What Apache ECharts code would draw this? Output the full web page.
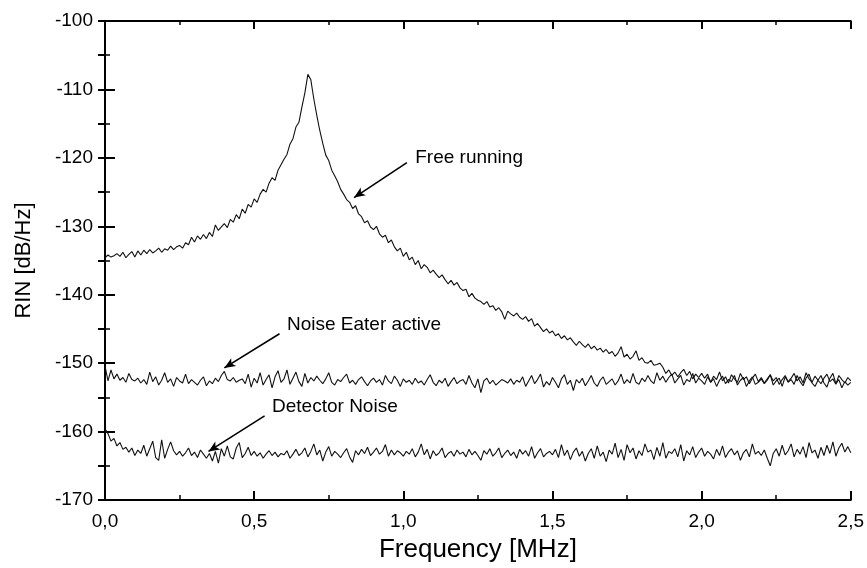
<!DOCTYPE html>
<html>
<head>
<meta charset="utf-8">
<title>RIN</title>
<script src="https://cdn.jsdelivr.net/npm/echarts@6/dist/echarts.min.js"></script>
<style>
  html, body { margin: 0; padding: 0; background: #fff; }
  #chart { width: 867px; height: 568px; }
</style>
</head>
<body>
<div id="chart"></div>
<script>
// sampling grid: 0,00 ... 2,50 MHz, one point every 0.01 MHz
var freqStep = 0.01;

// Free running laser (dB/Hz)
var freeRunning = [
  -134.6, -134.2, -134.5, -134.3, -134.0, -134.4, -133.8, -134.6, -134.1, -133.7,
  -134.5, -133.6, -134.2, -133.5, -134.0, -133.4, -133.9, -133.6, -133.2, -133.8,
  -133.3, -133.5, -132.9, -133.4, -133.0, -132.8, -133.2, -132.4, -132.7, -131.6,
  -132.3, -131.4, -131.9, -131.2, -131.8, -130.9, -131.5, -129.8, -130.6, -130.1,
  -129.6, -130.2, -129.0, -129.4, -128.3, -128.9, -127.5, -128.1, -126.8, -127.2,
  -126.0, -126.5, -125.3, -124.6, -125.0, -123.7, -122.9, -123.3, -121.8, -121.0,
  -120.2, -119.5, -118.0, -117.2, -115.5, -114.8, -112.6, -110.5, -107.8, -108.6,
  -111.4, -113.8, -116.0, -117.9, -119.6, -120.4, -121.8, -122.6, -123.5, -124.6,
  -125.3, -126.1, -126.5, -127.4, -127.0, -128.2, -128.6, -129.5, -129.2, -130.1,
  -130.5, -130.0, -131.1, -131.6, -131.3, -132.4, -132.0, -133.0, -133.6, -133.2,
  -134.4, -133.8, -134.9, -134.5, -135.6, -135.0, -136.2, -135.6, -136.0, -136.8,
  -136.4, -137.0, -137.5, -137.1, -137.8, -138.4, -137.9, -138.6, -138.2, -139.0,
  -139.4, -139.2, -140.3, -139.8, -140.5, -140.8, -141.0, -141.4, -141.0, -141.8,
  -141.6, -142.3, -141.9, -142.5, -143.6, -142.4, -142.8, -143.1, -142.7, -143.3,
  -143.6, -143.2, -143.9, -143.5, -144.6, -144.2, -144.8, -145.4, -145.0, -145.6,
  -145.3, -146.0, -145.7, -146.4, -146.0, -146.6, -146.3, -146.9, -147.4, -146.8,
  -147.3, -147.7, -147.2, -147.9, -147.5, -148.1, -147.8, -148.4, -148.0, -148.6,
  -148.3, -149.0, -148.5, -147.6, -149.1, -148.7, -149.4, -149.0, -148.2, -149.6,
  -149.2, -149.9, -150.0, -149.6, -150.3, -150.2, -150.0, -150.6, -151.5, -151.0,
  -151.8, -151.3, -152.0, -151.4, -150.9, -151.8, -151.2, -152.3, -151.6, -152.1,
  -151.5, -152.2, -151.6, -152.8, -151.9, -152.4, -151.3, -152.6, -152.0, -152.9,
  -151.7, -152.3, -152.8, -151.5, -152.4, -152.0, -153.0, -152.2, -151.6, -152.7,
  -152.1, -152.9, -152.3, -151.7, -152.6, -152.1, -153.1, -152.4, -151.8, -152.7,
  -152.2, -151.5, -152.6, -152.0, -152.9, -151.4, -152.3, -152.8, -151.9, -152.5,
  -153.0, -152.2, -151.6, -152.7, -152.3, -153.1, -151.8, -152.4, -152.9, -152.1,
  -152.6
];

// Noise Eater active (dB/Hz)
var noiseEater = [
  -150.4, -152.6, -151.0, -152.3, -151.6, -152.5, -152.1, -152.8, -151.5, -152.4,
  -152.6, -152.2, -152.9, -152.4, -153.1, -151.3, -152.7, -152.0, -153.2, -152.5,
  -151.4, -152.8, -152.3, -153.4, -152.1, -152.6, -152.9, -151.6, -153.0, -152.4,
  -152.8, -153.2, -152.5, -152.0, -153.3, -152.6, -153.0, -152.2, -152.7, -151.8,
  -151.2, -152.4, -152.6, -152.1, -152.8, -152.5, -152.3, -153.0, -151.6, -153.5,
  -152.2, -152.9, -151.4, -153.2, -152.4, -151.7, -153.6, -152.0, -151.1, -152.8,
  -152.3, -151.0, -153.1, -152.2, -151.3, -152.7, -153.4, -151.5, -152.9, -152.1,
  -152.6, -151.9, -152.5, -153.0, -152.3, -151.4, -152.8, -153.2, -152.4, -152.7,
  -152.1, -151.6, -152.9, -152.5, -153.1, -152.4, -152.0, -152.7, -153.3, -152.6,
  -152.2, -152.8, -152.4, -153.2, -151.8, -152.6, -153.0, -151.9, -152.5, -153.4,
  -152.3, -152.8, -152.5, -153.1, -152.2, -152.9, -152.6, -153.2, -152.4, -151.7,
  -152.8, -153.3, -152.5, -152.9, -152.2, -153.4, -152.7, -152.1, -153.0, -152.6,
  -152.4, -153.1, -151.8, -152.9, -153.6, -152.3, -154.3, -152.6, -152.2, -153.0,
  -152.5, -153.2, -152.8, -152.4, -152.6, -152.9, -152.3, -153.1, -152.5, -152.8,
  -152.0, -153.4, -152.6, -151.8, -153.0, -152.4, -151.6, -153.5, -152.7, -153.2,
  -152.1, -152.8, -153.6, -152.3, -151.7, -153.1, -152.5, -154.0, -152.4, -152.9,
  -152.2, -153.3, -152.6, -151.8, -152.9, -153.4, -152.5, -152.0, -153.1, -152.7,
  -152.3, -153.2, -152.6, -151.6, -153.0, -152.4, -152.9, -151.5, -152.8, -153.1,
  -152.2, -152.7, -151.8, -152.6, -153.0, -151.4, -152.5, -151.9, -152.8, -152.1,
  -151.6, -152.9, -152.3, -151.8, -153.2, -152.4, -152.7, -151.5, -152.9, -152.2,
  -152.6, -153.1, -152.0, -152.8, -152.3, -153.4, -152.5, -151.9, -153.0, -152.4,
  -152.7, -151.8, -153.2, -152.5, -152.1, -153.4, -152.6, -152.0, -153.1, -152.8,
  -152.3, -153.0, -152.5, -151.7, -153.2, -152.6, -152.2, -153.4, -152.0, -152.8,
  -152.4, -153.1, -151.8, -152.7, -153.3, -152.2, -151.6, -152.9, -153.4, -152.5,
  -151.8, -152.9, -153.5, -152.2, -151.5, -153.0, -152.4, -153.6, -152.7, -153.2,
  -152.8
];

// Detector Noise (dB/Hz)
var detectorNoise = [
  -159.6, -160.3, -161.4, -161.0, -162.1, -161.6, -162.6, -162.3, -163.0, -162.4,
  -163.5, -162.7, -163.2, -162.0, -163.6, -162.5, -161.4, -163.8, -164.2, -161.2,
  -163.9, -162.6, -161.5, -162.8, -163.4, -162.9, -163.6, -163.1, -162.4, -163.5,
  -163.0, -163.8, -162.7, -163.3, -163.9, -163.2, -164.3, -162.9, -164.6, -162.5,
  -163.6, -162.1, -163.7, -164.0, -162.4, -161.6, -163.8, -163.2, -162.3, -163.5,
  -162.9, -163.6, -163.1, -163.9, -163.3, -162.8, -163.5, -163.0, -163.7, -163.2,
  -163.4, -162.8, -163.9, -163.3, -162.6, -163.5, -163.1, -162.4, -163.7, -162.9,
  -161.8, -163.4, -162.7, -164.3, -163.0, -162.2, -163.6, -162.9, -163.3, -163.8,
  -163.1, -162.5, -163.7, -164.5, -162.8, -163.4, -162.6, -163.2, -162.3, -163.5,
  -163.0, -162.4, -163.3, -162.9, -161.9, -163.6, -162.7, -163.4, -162.8, -163.1,
  -163.6, -162.9, -163.3, -162.5, -163.7, -163.0, -161.8, -163.4, -162.6, -164.0,
  -162.8, -163.5, -163.1, -162.4, -163.8, -163.2, -162.9, -163.6, -162.7, -163.3,
  -163.0, -163.7, -162.6, -163.4, -162.9, -163.5, -164.2, -162.8, -163.3, -162.5,
  -163.6, -163.1, -162.4, -163.8, -163.2, -162.7, -163.5, -163.0, -163.9, -162.6,
  -163.3, -162.8, -163.6, -162.2, -163.9, -163.1, -162.5, -163.7, -163.2, -162.9,
  -163.4, -162.6, -163.8, -161.9, -163.5, -162.7, -164.1, -163.0, -162.4, -163.6,
  -162.9, -164.3, -163.2, -162.5, -163.9, -162.1, -163.6, -163.0, -164.4, -162.7,
  -163.3, -161.7, -163.8, -162.6, -164.2, -161.9, -163.1, -162.4, -164.0, -162.8,
  -163.5, -161.8, -163.0, -162.7, -164.1, -162.3, -163.6, -161.6, -163.9, -162.9,
  -163.2, -162.5, -163.7, -161.9, -164.3, -162.8, -163.4, -162.2, -163.8, -163.0,
  -162.4, -163.6, -162.9, -163.3, -164.0, -162.6, -163.5, -162.1, -163.8, -163.0,
  -162.5, -163.4, -162.8, -164.2, -163.1, -162.6, -163.7, -161.8, -163.3, -162.9,
  -163.5, -162.7, -163.9, -165.0, -163.2, -162.5, -163.6, -162.0, -163.4, -162.8,
  -161.8, -163.7, -162.6, -163.3, -162.2, -163.8, -161.6, -163.1, -162.7, -163.9,
  -162.3, -163.5, -162.0, -163.2, -161.5, -163.6, -162.4, -161.7, -163.0, -162.2,
  -163.1
];

// annotations: text, text anchor [MHz, dB/Hz], arrow from, arrow to
var labelTexts = ['Free running', 'Noise Eater active', 'Detector Noise'];
var labelAt = [[1.04, -120.0], [0.61, -144.4], [0.56, -156.4]];
var arrowFrom = [[1.012, -120.7], [0.585, -145.7], [0.535, -157.7]];
var arrowTo = [[0.835, -125.8], [0.400, -150.7], [0.347, -162.9]];

function pairs(values) {
  return values.map(function (v, i) {
    return [+(i * freqStep).toFixed(2), v];
  });
}

var fontName = '"Liberation Sans", Arial, Helvetica, sans-serif';
var ink = '#000';

var chart = echarts.init(document.getElementById('chart'));

var traceStyle = { color: '#111', width: 1.1 };

var option = {
  backgroundColor: '#fff',
  animation: false,
  grid: {
    left: 105,
    right: 14,
    top: 21,
    bottom: 68
  },
  xAxis: [{
    type: 'value',
    min: 0,
    max: 2.5,
    interval: 0.5,
    name: 'Frequency [MHz]',
    nameLocation: 'middle',
    nameGap: 37,
    nameTextStyle: { fontFamily: fontName, fontSize: 26, color: ink },
    axisLine: { lineStyle: { color: ink, width: 2 } },
    axisTick: { inside: true, length: 9, lineStyle: { color: ink, width: 2 } },
    minorTick: { show: true, splitNumber: 2, length: 5, lineStyle: { color: ink, width: 1.5 } },
    axisLabel: {
      margin: 12,
      fontFamily: fontName,
      fontSize: 19,
      color: ink,
      formatter: function (v) { return v.toFixed(1).replace('.', ','); }
    },
    splitLine: { show: false }
  }, {
    // top frame line with ticks
    type: 'value',
    position: 'top',
    min: 0,
    max: 2.5,
    interval: 0.5,
    axisLine: { show: true, lineStyle: { color: ink, width: 2 } },
    axisTick: { inside: true, length: 8, lineStyle: { color: ink, width: 2 } },
    minorTick: { show: true, splitNumber: 2, length: 4, lineStyle: { color: ink, width: 1.5 } },
    axisLabel: { show: false },
    splitLine: { show: false }
  }],
  yAxis: [{
    type: 'value',
    min: -170,
    max: -100,
    interval: 10,
    name: 'RIN [dB/Hz]',
    nameLocation: 'middle',
    nameGap: 70,
    nameTextStyle: { fontFamily: fontName, fontSize: 22, color: ink },
    axisLine: { show: true, lineStyle: { color: ink, width: 2 } },
    axisTick: { inside: true, length: 10, lineStyle: { color: ink, width: 2 } },
    minorTick: { show: true, splitNumber: 2, length: 5, lineStyle: { color: ink, width: 1.5 } },
    axisLabel: { margin: 12, fontFamily: fontName, fontSize: 19, color: ink },
    splitLine: { show: false }
  }, {
    // right frame line, ticks every 5 dB
    type: 'value',
    position: 'right',
    min: -170,
    max: -100,
    interval: 5,
    axisLine: { show: true, lineStyle: { color: ink, width: 2 } },
    axisTick: { inside: true, length: 7, lineStyle: { color: ink, width: 2 } },
    axisLabel: { show: false },
    splitLine: { show: false }
  }],
  series: [
    {
      name: 'Free running',
      type: 'line',
      showSymbol: false,
      lineStyle: traceStyle,
      data: pairs(freeRunning),
      z: 3
    },
    {
      name: 'Noise Eater active',
      type: 'line',
      showSymbol: false,
      lineStyle: traceStyle,
      data: pairs(noiseEater),
      z: 2
    },
    {
      name: 'Detector Noise',
      type: 'line',
      showSymbol: false,
      lineStyle: traceStyle,
      data: pairs(detectorNoise),
      z: 2
    },
    {
      // arrows + text labels
      name: 'notes',
      type: 'scatter',
      symbolSize: 0,
      silent: true,
      itemStyle: { opacity: 1 },
      data: labelAt.map(function (p, i) {
        return { value: p, name: labelTexts[i] };
      }),
      label: {
        show: true,
        position: 'right',
        distance: 0,
        formatter: '{b}',
        fontFamily: fontName,
        fontSize: 19,
        color: ink,
        opacity: 1
      },
      markLine: {
        silent: true,
        symbol: ['none', 'arrow'],
        symbolSize: [7, 11],
        label: { show: false },
        lineStyle: { color: ink, width: 1.6, type: 'solid', opacity: 1 },
        data: arrowFrom.map(function (p, i) {
          return [{ coord: p }, { coord: arrowTo[i] }];
        })
      }
    }
  ]
};

chart.setOption(option);
</script>
</body>
</html>
